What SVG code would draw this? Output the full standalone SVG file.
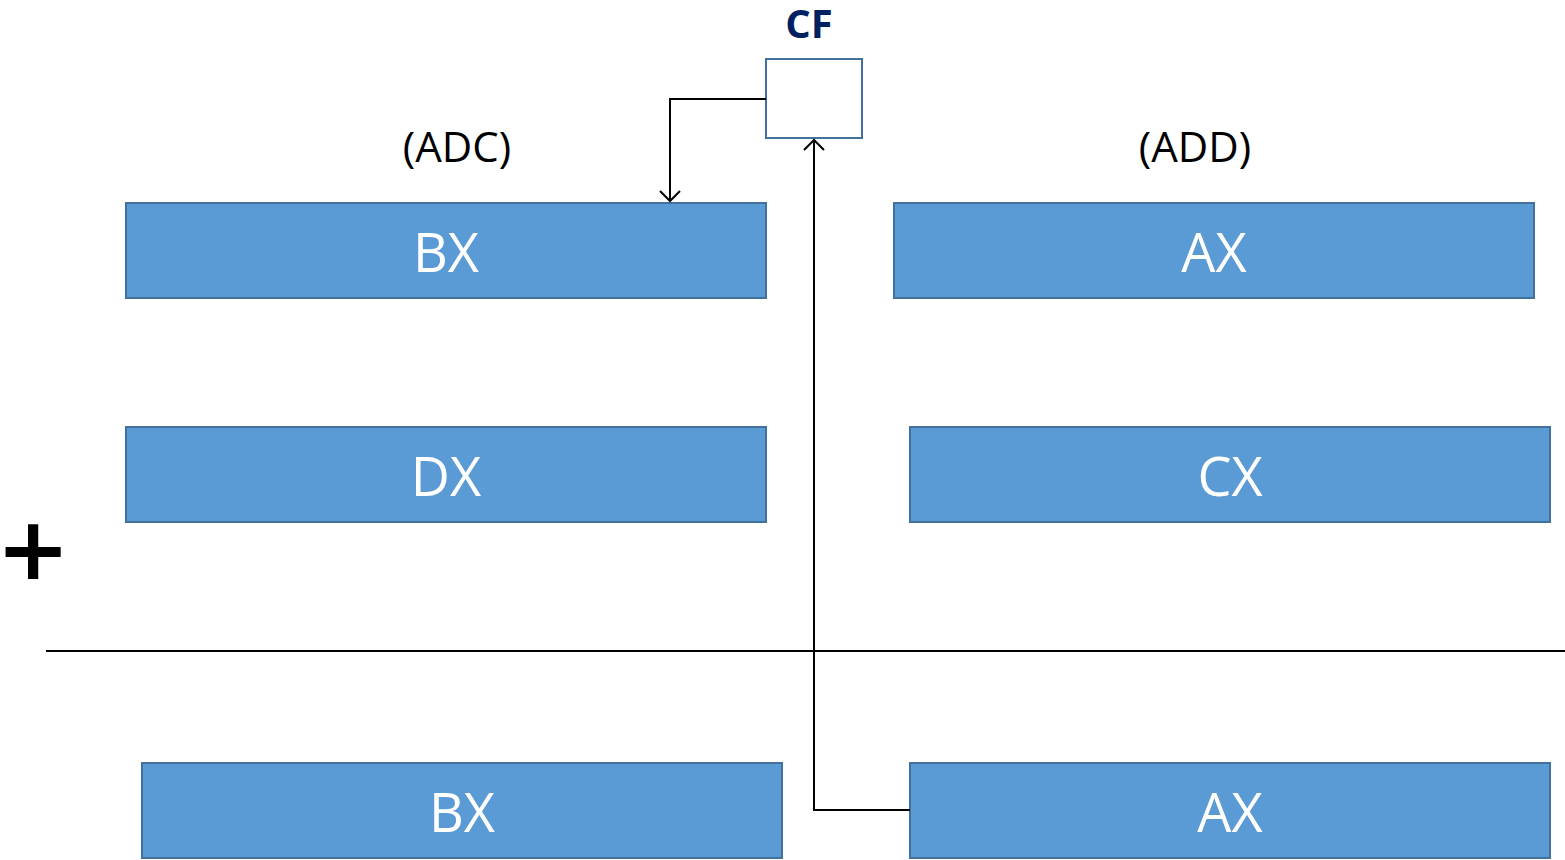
<svg xmlns="http://www.w3.org/2000/svg" width="1565" height="860" viewBox="0 0 1565 860">
<defs>
<style>
.reg{fill:#5B9BD5;stroke:#41719C;stroke-width:2}
.rt{fill:#fff;font-family:"Open Sans","Noto Sans",sans-serif;font-size:54px;text-anchor:middle;dominant-baseline:central}
.lbl{fill:#000;font-family:"Open Sans","Noto Sans",sans-serif;font-size:42px;text-anchor:middle;dominant-baseline:central}
.conn{fill:none;stroke:#000;stroke-width:2}
</style>
<marker id="arr" viewBox="0 0 22 22" refX="11" refY="11" markerWidth="22" markerHeight="22" markerUnits="userSpaceOnUse" orient="auto">
<path d="M1,1 L11,11 L1,21" fill="none" stroke="#000" stroke-width="2"/>
</marker>
</defs>
<rect width="1565" height="860" fill="#fff"/>
<g id="cf">
<rect x="766" y="59" width="96" height="79" fill="#fff" stroke="#41719C" stroke-width="2"/>
<text x="809" y="22" fill="#002060" font-family="'Open Sans','Noto Sans',sans-serif" font-size="40" font-weight="bold" text-anchor="middle" dominant-baseline="central">CF</text>
</g>
<g id="lbl-adc"><text class="lbl" x="457" y="145">(ADC)</text></g>
<g id="lbl-add"><text class="lbl" x="1195" y="145">(ADD)</text></g>
<g id="bx1"><rect class="reg" x="126" y="203" width="640" height="95"/><text class="rt" x="446" y="251">BX</text></g>
<g id="ax1"><rect class="reg" x="894" y="203" width="640" height="95"/><text class="rt" x="1214" y="251">AX</text></g>
<g id="dx"><rect class="reg" x="126" y="427" width="640" height="95"/><text class="rt" x="446" y="475">DX</text></g>
<g id="cx"><rect class="reg" x="910" y="427" width="640" height="95"/><text class="rt" x="1230" y="475">CX</text></g>
<g id="bx2"><rect class="reg" x="142" y="763" width="640" height="95"/><text class="rt" x="462" y="811">BX</text></g>
<g id="ax2"><rect class="reg" x="910" y="763" width="640" height="95"/><text class="rt" x="1230" y="811">AX</text></g>
<g id="plus"><text x="33" y="548" font-family="'DejaVu Sans',sans-serif" font-size="88" font-weight="bold" text-anchor="middle" dominant-baseline="central" fill="#000">+</text></g>
<g id="connectors">
<line x1="46" y1="651" x2="1565" y2="651" stroke="#000" stroke-width="2"/>
<path class="conn" d="M766,99 H670 V201" marker-end="url(#arr)"/>
<path class="conn" d="M910,810 H814 V140" marker-end="url(#arr)"/>
</g>
</svg>
